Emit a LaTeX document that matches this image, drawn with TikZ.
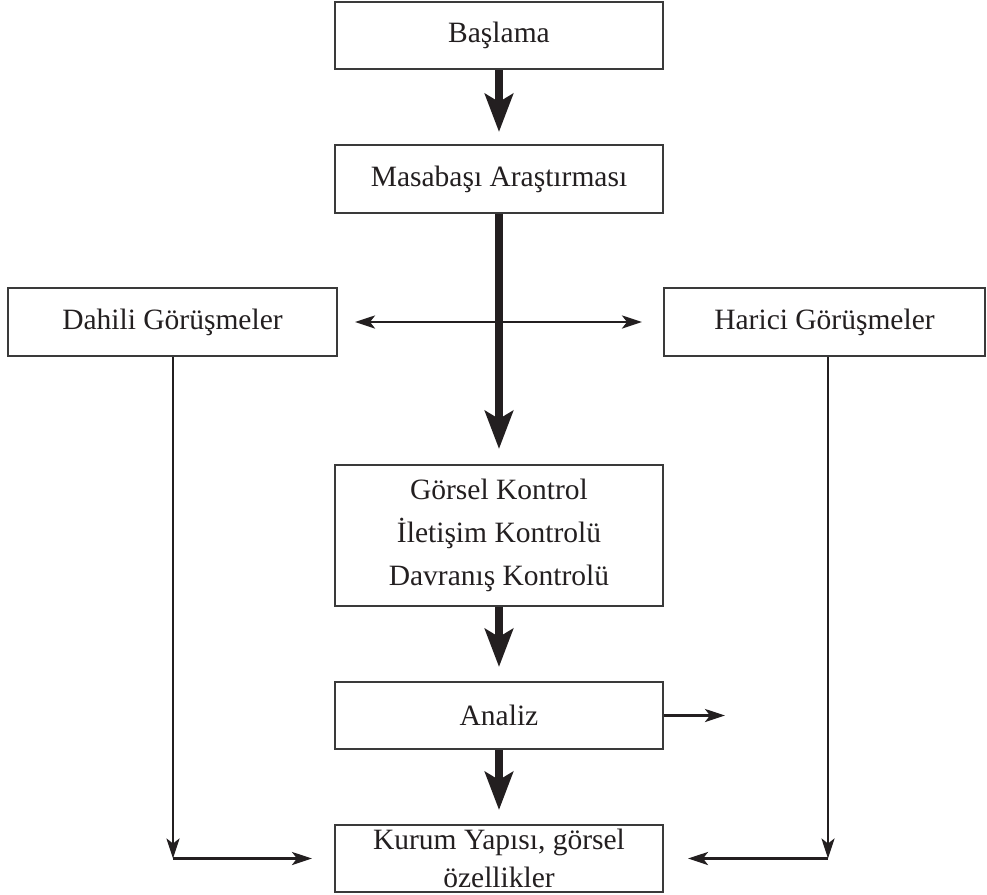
\documentclass[tikz,border=0pt]{standalone}
\usepackage{fontspec}
\setmainfont{Liberation Serif}
\usetikzlibrary{arrows.meta,calc}
\definecolor{ink}{HTML}{231F20}
\definecolor{frame}{HTML}{3A3A3A}
\begin{document}
\begin{tikzpicture}[x=1pt,y=-1pt,
  box/.style={draw=frame,line width=2pt,inner sep=0pt,minimum width=328pt,minimum height=67pt,
    align=center,text=ink,font=\fontsize{29.5}{38}\selectfont},
  bigarrow/.style={draw=ink,line width=8pt,-{Stealth[length=38pt,width=28pt,inset=8pt]}},
  thinarrow/.style={draw=ink,line width=2.6pt,-{Stealth[length=20pt,width=13pt,inset=5pt]}},
  thinboth/.style={draw=ink,line width=2.6pt,{Stealth[length=20pt,width=13pt,inset=5pt]}-{Stealth[length=20pt,width=13pt,inset=5pt]}}]
\useasboundingbox (0,0) rectangle (987,894);
\fill[white] (0,0) rectangle (987,894);

\node[box] (bas) at (499,35.5) {Başlama};
\node[box,minimum height=68pt] (mas) at (499,179) {Masabaşı Araştırması};
\node[box,minimum width=329pt,minimum height=68pt] (dah) at (172.5,322) {Dahili Görüşmeler};
\node[box,minimum width=321pt,minimum height=68pt] (har) at (824.5,322) {Harici Görüşmeler};
\node[box,minimum height=141pt,font=\fontsize{29.5}{43}\selectfont] (gor) at (499,535.5) {Görsel Kontrol\\İletişim Kontrolü\\Davranış Kontrolü};
\node[box] (ana) at (499,715.5) {Analiz};
\node[box] (kur) at (499,858.5) {Kurum Yapısı, görsel\\özellikler};

\coordinate (aend) at (725,715.5);
\coordinate (dc) at (173,858.5);
\coordinate (hc) at (828,858.5);

\draw[bigarrow,shorten >=12pt] (bas.south) -- (mas.north);
\draw[bigarrow,shorten >=15pt] (mas.south) -- (gor.north);
\draw[bigarrow,shorten >=14pt] (gor.south) -- (ana.north);
\draw[bigarrow,shorten >=14pt] (ana.south) -- (kur.north);

\draw[thinboth,shorten <=17pt,shorten >=21pt] (dah.east) -- (har.west);
\draw[thinarrow] (ana.east) -- (aend);

\draw[thinarrow] (dah.south -| dc) -- (dc);
\draw[thinarrow,shorten >=22pt] (dc) -- (kur.west);
\draw[thinarrow] (har.south -| hc) -- (hc);
\draw[thinarrow,shorten >=24pt] (hc) -- (kur.east);
\end{tikzpicture}
\end{document}
